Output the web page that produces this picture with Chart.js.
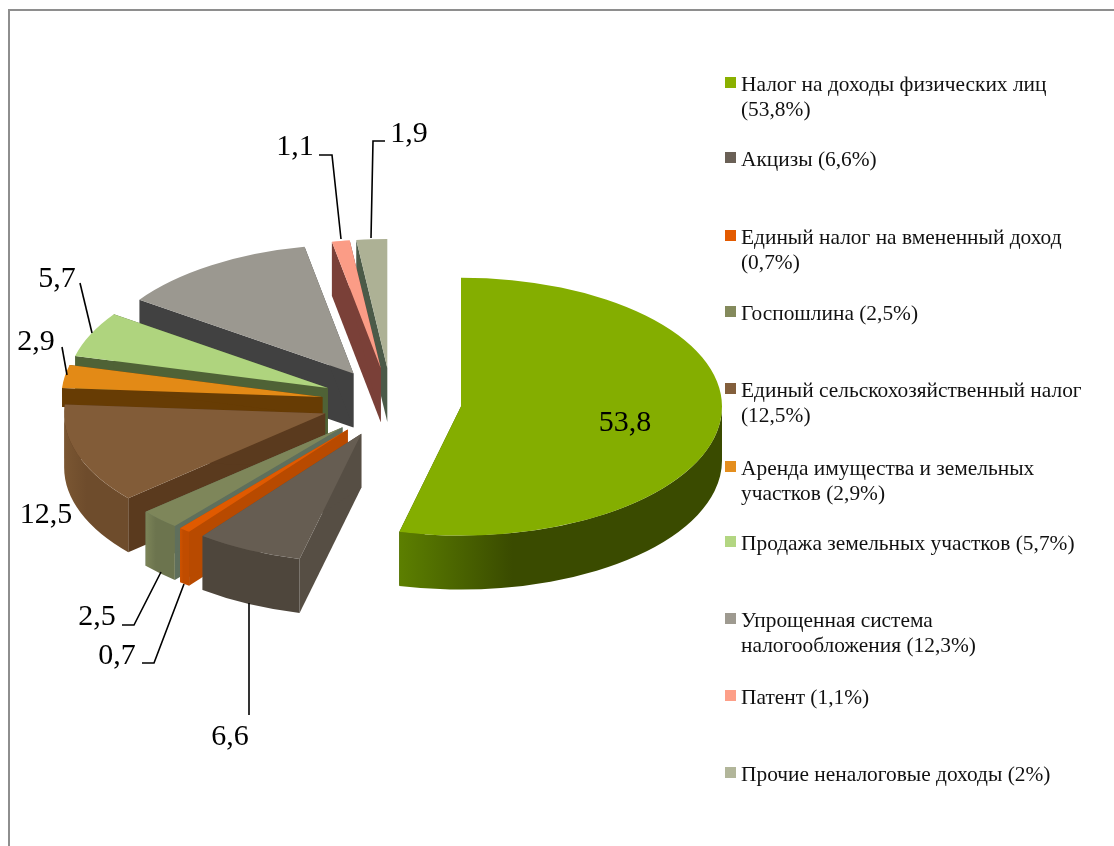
<!DOCTYPE html>
<html lang="ru">
<head>
<meta charset="utf-8">
<style>html,body{margin:0;padding:0;background:#fff}canvas{display:block}</style>
<script src="https://cdn.jsdelivr.net/npm/chart.js@4"></script>
</head>
<body>
<canvas id="c" width="1114" height="846"></canvas>
<script>
const categories = [
  'Налог на доходы физических лиц\n(53,8%)',
  'Акцизы (6,6%)',
  'Единый налог на вмененный доход\n(0,7%)',
  'Госпошлина (2,5%)',
  'Единый сельскохозяйственный налог\n(12,5%)',
  'Аренда имущества и земельных\nучастков (2,9%)',
  'Продажа земельных участков (5,7%)',
  'Упрощенная система\nналогообложения (12,3%)',
  'Патент (1,1%)',
  'Прочие неналоговые доходы (2%)'
];
const values = [53.8, 6.6, 0.7, 2.5, 12.5, 2.9, 5.7, 12.3, 1.1, 1.9];

// Styles
const topColors  = ['#84ae00','#665d52','#e05a00','#7e865a','#825c38','#e38a16','#afd47e','#9b9890','#fb9c86','#adb195'];
const keyColors  = ['#8ab000','#6a6056','#e35a00','#848a5c','#835f3c','#e48e1e','#b3d682','#9e9a90','#fd9f88','#b2b69a'];
const wallStart  = ['#5c7f00','#4e463c','#d05200','#7c8458','#7a5632','#a86410','#6f8a4c','#555555','#8a4a40','#5a6a58'];
const wallEnd    = ['#3a4b00','#4e463c','#c04c00','#6c744e','#6e4c2c','#a86410','#6f8a4c','#555555','#8a4a40','#5a6a58'];
const cutColors  = ['#3a4b00','#564e44','#b84a00','#5f6f5c','#5a3a1e','#673c04','#4f6236','#414141','#7a4038','#4b5a48'];
const cutDepths  = [54, 54, 54, 54, 54, 19, 54, 54, 54, 54];

// Layout
const explode = 70, squash = 0.494, depth = 54;
const legendRows = [85, 160, 238, 314, 391, 469, 544, 621, 698, 775];
const legendLead = 25;
const valueLabelPos = [[625,423],[230,737],[117,656],[97,617],[46,515],[36,342],[57,279],null,[295,147],[409,134]];
const leaders = [
  null,
  [[249,603],[249,715]],
  [[142,663],[154,663],[184,584]],
  [[122,625],[134,625],[161,572]],
  null,
  [[62,347],[67,375]],
  [[80,283],[92,333]],
  null,
  [[319,155],[332,155],[341,239]],
  [[385,141],[373,141],[371,238]]
];

class Pie3D extends Chart.PieController {
  draw() {
    const ctx = this.chart.ctx;
    const arcs = this._cachedMeta.data;
    const T = Math.PI * 2;
    const order = arcs.map((a, i) => i).sort((p, q) => {
      const mid = a => (arcs[a].startAngle + arcs[a].endAngle) / 2;
      return Math.sin(mid(p)) - Math.sin(mid(q));
    });
    for (const i of order) {
      const arc = arcs[i];
      const s = arc.startAngle, e = arc.endAngle, m = (s + e) / 2, R = arc.outerRadius;
      const ox = arc.x + explode * Math.cos(m);
      const oy = arc.y + explode * Math.sin(m) * squash;
      const px = a => ox + R * Math.cos(a);
      const py = a => oy + R * Math.sin(a) * squash;
      // cut faces
      ctx.fillStyle = cutColors[i];
      for (const a of [s, e]) {
        ctx.beginPath();
        ctx.moveTo(ox, oy);
        ctx.lineTo(px(a), py(a));
        ctx.lineTo(px(a), py(a) + cutDepths[i]);
        ctx.lineTo(ox, oy + cutDepths[i]);
        ctx.closePath();
        ctx.fill();
      }
      // outer wall: only the part of the rim facing the viewer
      for (const shift of [-T, 0, T]) {
        const a0 = Math.max(s, shift), a1 = Math.min(e, shift + Math.PI);
        if (a1 <= a0) continue;
        const xs = [px(a0), px(a1), ...(a0 < shift + Math.PI / 2 && a1 > shift + Math.PI / 2 ? [] : [])];
        const g = ctx.createLinearGradient(Math.min(...xs), 0, Math.max(...xs), 0);
        g.addColorStop(0, wallStart[i]);
        g.addColorStop(0.35, wallEnd[i]);
        g.addColorStop(1, wallEnd[i]);
        ctx.fillStyle = g;
        ctx.beginPath();
        ctx.ellipse(ox, oy, R, R * squash, 0, a0, a1, false);
        ctx.ellipse(ox, oy + depth, R, R * squash, 0, a1, a0, true);
        ctx.closePath();
        ctx.fill();
      }
      // top face: the library's own arc, projected
      ctx.save();
      ctx.translate(ox, oy);
      ctx.scale(1, squash);
      ctx.translate(-arc.x, -arc.y);
      arc.draw(ctx);
      ctx.restore();
    }
  }
}
Pie3D.id = 'pie3d';
Pie3D.defaults = Chart.PieController.defaults;
Chart.register(Pie3D);

const annotations = {
  id: 'annotations',
  beforeDraw(chart) {
    const ctx = chart.ctx;
    ctx.save();
    ctx.fillStyle = '#ffffff';
    ctx.fillRect(0, 0, chart.width, chart.height);
    ctx.fillStyle = '#8e8e8e';
    ctx.fillRect(8, 9, chart.width - 8, 2);
    ctx.fillRect(8, 9, 2, chart.height - 9);
    ctx.restore();
  },
  afterDraw(chart) {
    const ctx = chart.ctx;
    ctx.save();
    // leader lines
    ctx.strokeStyle = '#000';
    ctx.lineWidth = 1.6;
    leaders.forEach(l => {
      if (!l) return;
      ctx.beginPath();
      l.forEach((p, i) => i ? ctx.lineTo(p[0], p[1]) : ctx.moveTo(p[0], p[1]));
      ctx.stroke();
    });
    // value labels
    ctx.fillStyle = '#000';
    ctx.font = '30px "Liberation Serif"';
    ctx.textAlign = 'center';
    ctx.textBaseline = 'middle';
    values.forEach((v, i) => {
      const p = valueLabelPos[i];
      if (p) ctx.fillText(v.toFixed(1).replace('.', ','), p[0], p[1]);
    });
    // legend
    ctx.font = '21.4px "Liberation Serif"';
    ctx.textAlign = 'left';
    ctx.textBaseline = 'middle';
    categories.forEach((label, i) => {
      const y = legendRows[i];
      ctx.fillStyle = keyColors[i];
      ctx.fillRect(725, y - 8, 11, 11);
      ctx.fillStyle = '#111';
      label.split('\n').forEach((line, j) => ctx.fillText(line, 741, y + j * legendLead));
    });
    ctx.restore();
  }
};

new Chart(document.getElementById('c'), {
  type: 'pie3d',
  data: {
    labels: categories,
    datasets: [{
      data: values,
      backgroundColor: topColors,
      borderWidth: 0,
      clip: false
    }]
  },
  options: {
    responsive: false,
    animation: false,
    events: [],
    layout: { padding: { left: 130.5, right: 461.5, top: 141.5, bottom: 182.5 } },
    plugins: { legend: { display: false }, tooltip: { enabled: false }, title: { display: false } }
  },
  plugins: [annotations]
});
</script>
</body>
</html>
